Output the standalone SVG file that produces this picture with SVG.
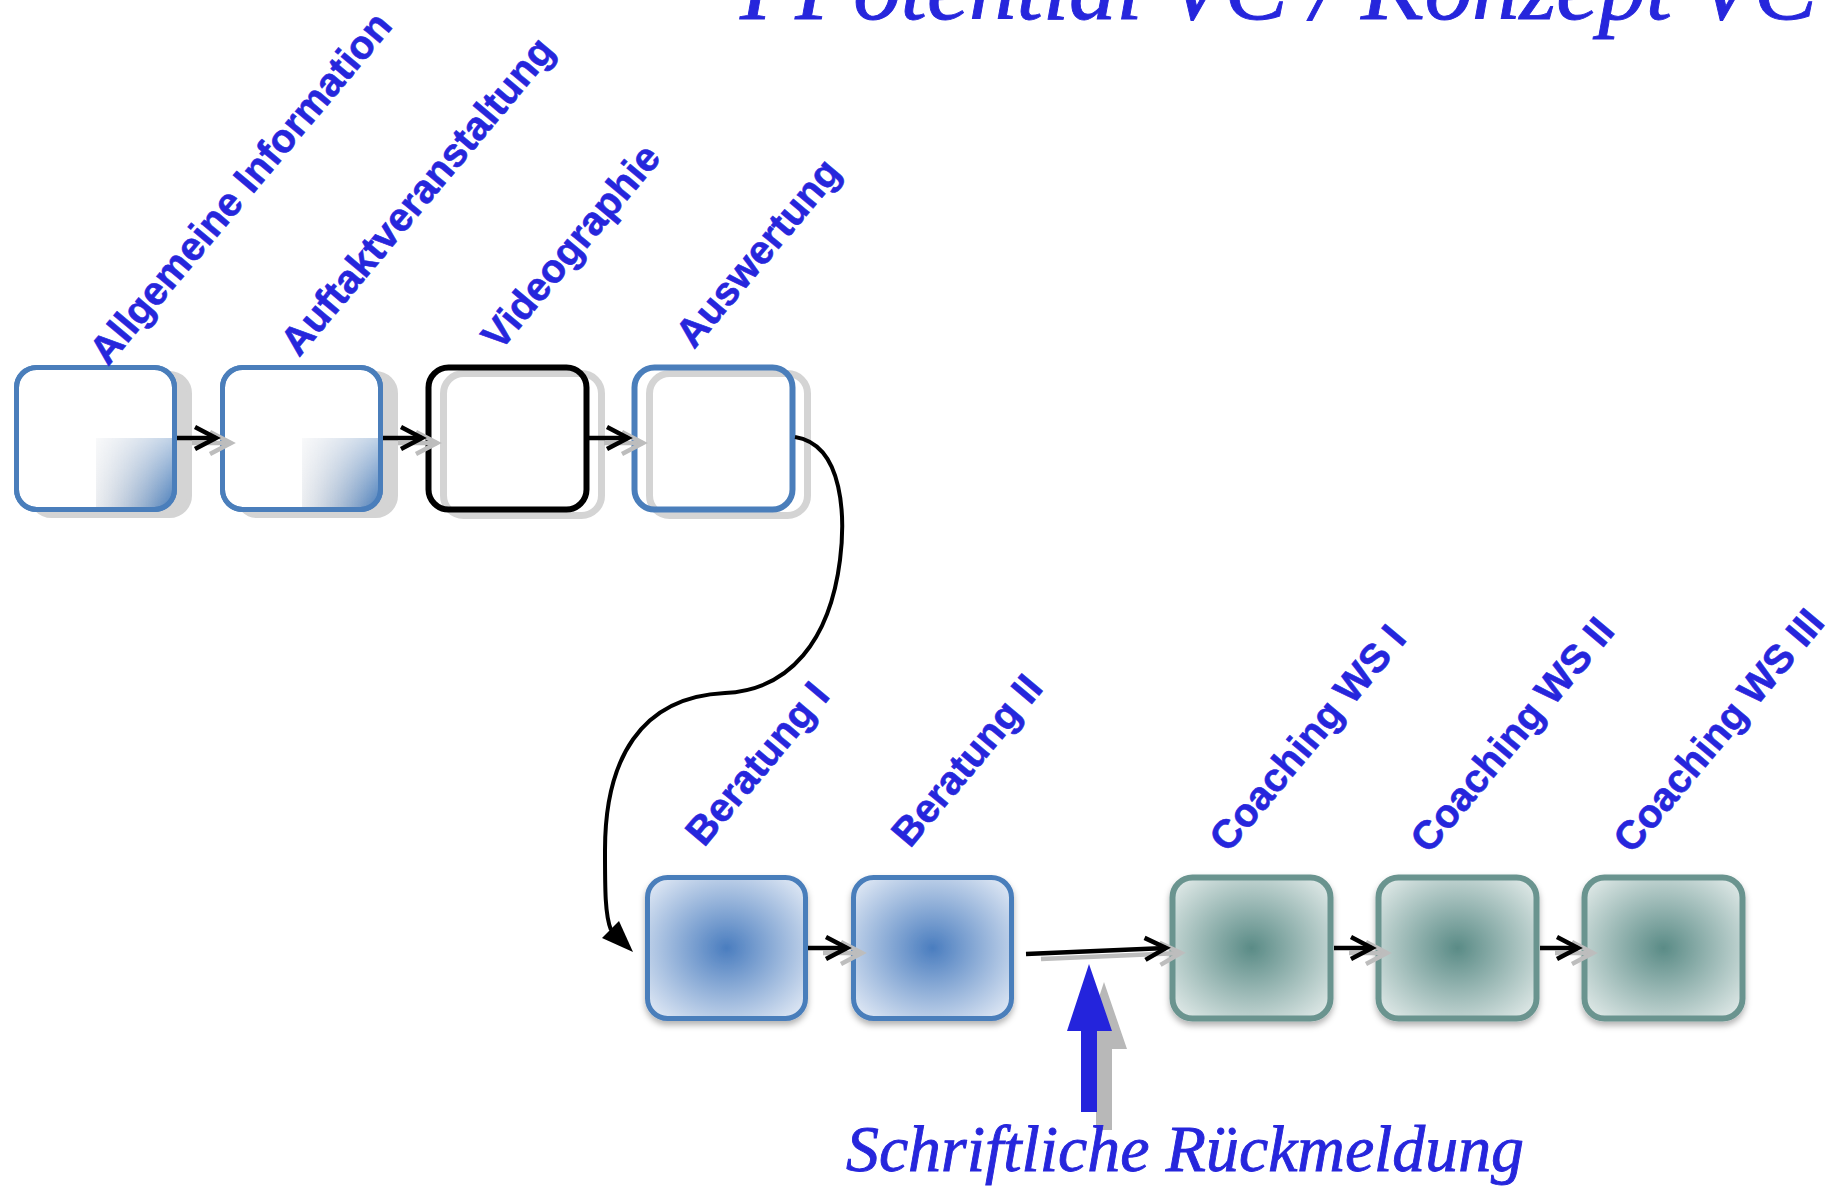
<svg xmlns="http://www.w3.org/2000/svg" width="1836" height="1191" viewBox="0 0 1836 1191">
<defs>
<style>
.lbl{font-family:"Liberation Sans",Arial,sans-serif;font-weight:bold;font-size:40px;fill:#2626dc;stroke:#2626dc;stroke-width:0.6}
.ser{font-family:"Liberation Serif","Times New Roman",serif;font-style:italic;fill:#2626dc;stroke:#2626dc;stroke-width:0.9}
.boxw{fill:#fff;stroke:#4a7ebb;stroke-width:5}
.shf{fill:#d4d4d4;stroke:#d4d4d4;stroke-width:5}
.shs{fill:none;stroke:#d4d4d4;stroke-width:7}
.openb{fill:none;stroke:#4a7ebb;stroke-width:6}
.openk{fill:none;stroke:#000;stroke-width:6}
.radb{fill:url(#radB);stroke:#4a7ebb;stroke-width:5;filter:url(#ds)}
.radt{fill:url(#radT);stroke:#6a948f;stroke-width:6;filter:url(#ds)}
.quad{fill:url(#gh);mask:url(#mv)}
.con{fill:none;stroke:#000;stroke-width:4.5;marker-end:url(#chev)}
.cons{fill:none;stroke:#bdbdbd;stroke-width:4.5;marker-end:url(#chevS)}
</style>
<linearGradient id="gh" x1="0" y1="0" x2="1" y2="0">
<stop offset="0" stop-color="#9aa6b8" stop-opacity="0.2"/>
<stop offset="1" stop-color="#4a7ebb" stop-opacity="1"/>
</linearGradient>
<linearGradient id="gv" x1="0" y1="0" x2="0" y2="1">
<stop offset="0" stop-color="#fff" stop-opacity="0.35"/>
<stop offset="1" stop-color="#fff" stop-opacity="1"/>
</linearGradient>
<mask id="mv" maskUnits="objectBoundingBox" maskContentUnits="objectBoundingBox" x="0" y="0" width="1" height="1">
<rect width="1" height="1" fill="url(#gv)"/>
</mask>
<radialGradient id="radB" cx="0.5" cy="0.5" r="0.75">
<stop offset="0" stop-color="#4a7dbf"/>
<stop offset="1" stop-color="#f4f7fc"/>
</radialGradient>
<radialGradient id="radT" cx="0.5" cy="0.5" r="0.75">
<stop offset="0" stop-color="#5a8b86"/>
<stop offset="1" stop-color="#f2f6f5"/>
</radialGradient>
<filter id="ds" x="-10%" y="-10%" width="125%" height="130%">
<feDropShadow dx="0" dy="4" stdDeviation="3" flood-color="#000" flood-opacity="0.3"/>
</filter>
<marker id="chev" markerUnits="userSpaceOnUse" viewBox="-26 -16 34 32" markerWidth="34" markerHeight="32" refX="0" refY="0" orient="auto">
<path d="M-21,-11 L0,0 L-21,11" fill="none" stroke="#000" stroke-width="4.5"/>
</marker>
<marker id="chevS" markerUnits="userSpaceOnUse" viewBox="-26 -16 34 32" markerWidth="34" markerHeight="32" refX="0" refY="0" orient="auto">
<path d="M-21,-11 L0,0 L-21,11" fill="none" stroke="#bdbdbd" stroke-width="4.5"/>
</marker>
</defs>
<rect width="1836" height="1191" fill="#fff"/>

<text class="ser" x="740" y="19" font-size="94" textLength="1077" lengthAdjust="spacingAndGlyphs">I Potential VC / Konzept VC</text>

<g id="node-allgemeine-information">
<rect class="shf" x="31.5" y="373.5" width="158" height="142" rx="20"/>
<rect class="boxw" x="16.5" y="367.5" width="158" height="142" rx="20"/>
<path class="quad" d="M96,438 H173 V490 A19,19 0 0 1 154,508 H96 Z"/>
<rect x="16.5" y="367.5" width="158" height="142" rx="20" fill="none" stroke="#4a7ebb" stroke-width="5"/>
<text class="lbl" transform="translate(108,367) rotate(-50)">Allgemeine Information</text>
</g>

<g id="node-auftaktveranstaltung">
<rect class="shf" x="237.5" y="373.5" width="158" height="142" rx="20"/>
<rect class="boxw" x="222.5" y="367.5" width="158" height="142" rx="20"/>
<path class="quad" d="M302,438 H379 V490 A19,19 0 0 1 360,508 H302 Z"/>
<rect x="222.5" y="367.5" width="158" height="142" rx="20" fill="none" stroke="#4a7ebb" stroke-width="5"/>
<text class="lbl" transform="translate(299,358) rotate(-50)">Auftaktveranstaltung</text>
</g>

<g id="node-videographie">
<rect class="shs" x="443.5" y="373.5" width="158" height="142" rx="20"/>
<rect class="openk" x="428.5" y="367.5" width="158" height="142" rx="20"/>
<text class="lbl" transform="translate(500,352) rotate(-50)">Videographie</text>
</g>

<g id="node-auswertung">
<rect class="shs" x="649.5" y="373.5" width="158" height="142" rx="20"/>
<rect class="openb" x="634.5" y="367.5" width="158" height="142" rx="20"/>
<text class="lbl" transform="translate(694,350) rotate(-50)">Auswertung</text>
</g>

<g id="node-beratung-1">
<rect class="radb" x="647.5" y="877.5" width="158" height="141" rx="20"/>
<text class="lbl" transform="translate(704,848) rotate(-50)">Beratung I</text>
</g>

<g id="node-beratung-2">
<rect class="radb" x="853.5" y="877.5" width="158" height="141" rx="20"/>
<text class="lbl" transform="translate(910,849) rotate(-50)">Beratung II</text>
</g>

<g id="node-coaching-ws-1">
<rect class="radt" x="1172.5" y="877.5" width="158" height="141" rx="20"/>
<text class="lbl" transform="translate(1228,854) rotate(-50)">Coaching WS I</text>
</g>

<g id="node-coaching-ws-2">
<rect class="radt" x="1378.5" y="877.5" width="158" height="141" rx="20"/>
<text class="lbl" transform="translate(1429,855) rotate(-50)">Coaching WS II</text>
</g>

<g id="node-coaching-ws-3">
<rect class="radt" x="1584.5" y="877.5" width="158" height="141" rx="20"/>
<text class="lbl" transform="translate(1632,855) rotate(-50)">Coaching WS III</text>
</g>

<g id="connectors">
<path class="cons" d="M192,443 H231"/>
<path class="cons" d="M398,443 H437"/>
<path class="cons" d="M604,443 H643"/>
<path class="cons" d="M823,953 H862"/>
<path class="cons" d="M1041,959 L1181,953"/>
<path class="cons" d="M1349,953 H1387"/>
<path class="cons" d="M1555,953 H1593"/>
<path class="con" d="M177,438 H216"/>
<path class="con" d="M383,438 H422"/>
<path class="con" d="M589,438 H628"/>
<path class="con" d="M808,948 H847"/>
<path class="con" d="M1026,954 L1166,948"/>
<path class="con" d="M1334,948 H1372"/>
<path class="con" d="M1540,948 H1578"/>
<path d="M795,437 C845,445 845,520 840,560 C830,640 790,690 725,693 C640,697 605,760 605,850 C605,890 605,915 611,930" fill="none" stroke="#000" stroke-width="4"/>
<polygon points="633,952 602,938 619,921" fill="#000"/>
</g>

<g id="feedback">
<polygon points="1104,982 1127,1049 1112,1049 1112,1130 1096,1130 1096,1049 1082,1049" fill="#b8b8b8"/>
<polygon points="1089,964 1112,1031 1097,1031 1097,1112 1081,1112 1081,1031 1067,1031" fill="#2424dc"/>
<text class="ser" x="846" y="1171" font-size="66" textLength="678" lengthAdjust="spacingAndGlyphs">Schriftliche Rückmeldung</text>
</g>
</svg>
